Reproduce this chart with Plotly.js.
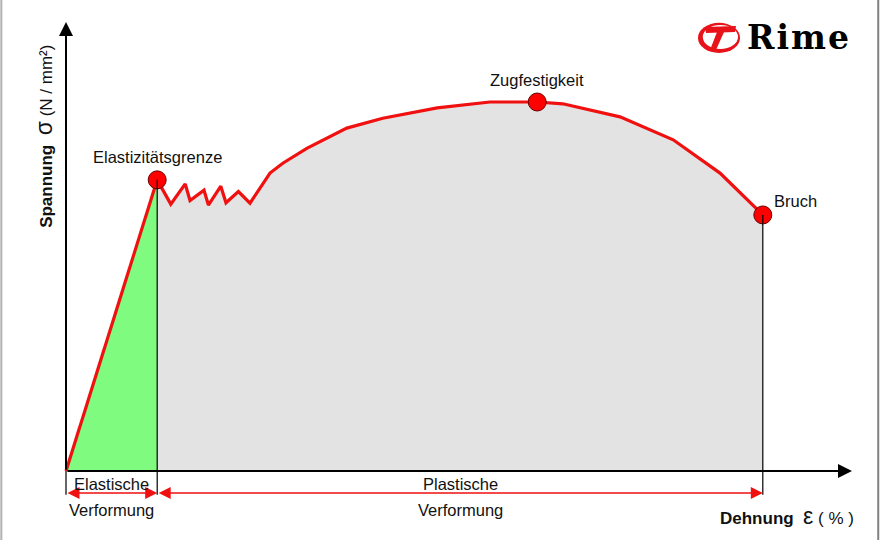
<!DOCTYPE html>
<html>
<head>
<meta charset="utf-8">
<script src="https://cdn.plot.ly/plotly-3.0.1.min.js"></script>
<style>
  html, body { margin: 0; padding: 0; background: #fff; }
  #chart { width: 880px; height: 540px; }
</style>
</head>
<body>
<div id="chart"></div>
<script>
// Spannungs-Dehnungs-Diagramm (stress-strain curve), arbitrary units
// Strain (Dehnung, %) and stress (Spannung, N/mm²) along the curve
const strain = [0, 11.4, 13.1, 14.9, 15.5, 17.25, 17.8, 19.35, 20.0, 21.55, 23.0,
                25.5, 27.1, 30.1, 35.1, 39.6, 46.4, 53.0, 58.9, 62.1, 69.25, 75.9, 81.75, 87.1];
const stress = [0, 64.7, 59.3, 63.8, 60.1, 62.4, 59.1, 63.3, 59.6, 62.1, 59.5,
                66.2, 68.4, 71.7, 76.2, 78.4, 80.7, 82.0, 82.0, 81.6, 78.7, 73.6, 66.2, 56.9];

// Characteristic points (indices into the curve)
const pointNames = ["Elastizitätsgrenze", "Zugfestigkeit", "Bruch"];
const pointIndex = [1, 18, strain.length - 1];

// Region labels below the strain axis
const regionTop = ["Elastische", "Plastische"];
const regionBottom = ["Verformung", "Verformung"];

const iLimit = pointIndex[0];
const iBreak = pointIndex[2];
const elX = strain.slice(0, iLimit + 1), elY = stress.slice(0, iLimit + 1);
const plX = strain.slice(iLimit), plY = stress.slice(iLimit);

const RED = '#f01010';
const FONT = 'Liberation Sans, Arial, sans-serif';
const LBL = 16.5;

const traces = [
  // elastic region: green triangle under the straight line
  { x: elX, y: elY, type: 'scatter', mode: 'lines', fill: 'tozeroy',
    fillcolor: '#7ffc7f', line: { color: RED, width: 3.2 }, hoverinfo: 'skip' },
  // plastic region: grey area under the curve
  { x: plX, y: plY, type: 'scatter', mode: 'lines', fill: 'tozeroy',
    fillcolor: '#e3e3e3', line: { color: RED, width: 3.2 }, hoverinfo: 'skip' }
];

const yAxisEnd = 99.8, xAxisEnd = 98.25, arrowRow = -4.9, tickBottom = -5.3;

const shapes = [
  // boundaries of the regions, extended below the axis
  { type: 'line', xref: 'x', yref: 'y', x0: 0, x1: 0, y0: 0, y1: tickBottom,
    line: { color: '#000', width: 1.2 } },
  { type: 'line', xref: 'x', yref: 'y', x0: strain[iLimit], x1: strain[iLimit],
    y0: stress[iLimit], y1: tickBottom, line: { color: '#000', width: 1.2 } },
  { type: 'line', xref: 'x', yref: 'y', x0: strain[iBreak], x1: strain[iBreak],
    y0: stress[iBreak], y1: tickBottom, line: { color: '#000', width: 1.2 } },
  // logo mark
  { type: 'circle', xref: 'x', yref: 'y', x0: 79.0, x1: 84.25, y0: 92.9, y1: 99.6,
    fillcolor: '#e8121a', line: { width: 0 } },
  { type: 'circle', xref: 'x', yref: 'y', x0: 79.6, x1: 84.0, y0: 93.8, y1: 99.1,
    fillcolor: '#ffffff', line: { width: 0 } },
  { type: 'path', xref: 'x', yref: 'y',
    path: 'M 79.875 98.67 L 83.75 98.89 L 83.625 97.56 L 80.0 97.33 Z',
    fillcolor: '#e8121a', line: { width: 0 } },
  { type: 'path', xref: 'x', yref: 'y',
    path: 'M 81.375 97.56 L 82.25 97.56 L 81.25 93.56 L 80.5 93.56 Z',
    fillcolor: '#e8121a', line: { width: 0 } },
  // frame edges
  { type: 'line', xref: 'paper', yref: 'paper', x0: 0.0015, x1: 0.0015, y0: 0, y1: 1,
    line: { color: '#b0b0b0', width: 2 } },
  { type: 'line', xref: 'paper', yref: 'paper', x0: 0.998, x1: 0.998, y0: 0, y1: 1,
    line: { color: '#808080', width: 2 } }
];

const arrow = (x, y, ax, ay, color, width, side, size) => ({
  x: x, y: y, ax: ax, ay: ay, xref: 'x', yref: 'y', axref: 'x', ayref: 'y',
  text: '', showarrow: true, arrowhead: 2, startarrowhead: 2, arrowside: side,
  arrowsize: size, startarrowsize: size, arrowwidth: width, arrowcolor: color,
  standoff: 0, startstandoff: 0
});

const txt = (x, y, text, size, extra) => Object.assign({
  x: x, y: y, xref: 'x', yref: 'y', text: text, showarrow: false,
  font: { family: FONT, size: size, color: '#111' }
}, extra || {});

const annotations = [
  // axes
  arrow(0, yAxisEnd, 0, 0, '#000', 2, 'end', 1.4),
  arrow(xAxisEnd, 0, 0, 0, '#000', 2, 'end', 1.4),
  // deformation ranges
  arrow(strain[iLimit], arrowRow, 0, arrowRow, RED, 1.6, 'end+start', 1.5),
  arrow(strain[iBreak], arrowRow, strain[iLimit], arrowRow, RED, 1.6, 'end+start', 1.5),
  // labels of characteristic points
  txt(strain[pointIndex[0]], stress[pointIndex[0]] + 5.1, pointNames[0], LBL),
  txt(strain[pointIndex[1]], stress[pointIndex[1]] + 5.0, pointNames[1], LBL),
  txt(strain[pointIndex[2]] + 1.2, stress[pointIndex[2]] + 3.2, pointNames[2], LBL,
      { xanchor: 'left' }),
  // region labels
  txt(strain[iLimit] / 2, -2.9, regionTop[0], LBL),
  txt(strain[iLimit] / 2, -8.7, regionBottom[0], LBL),
  txt((strain[iLimit] + strain[iBreak]) / 2, -2.9, regionTop[1], LBL),
  txt((strain[iLimit] + strain[iBreak]) / 2, -8.7, regionBottom[1], LBL),
  // axis titles
  txt(98.7, -10.1, '<b>Dehnung</b>  <span style="font-size:23px">ε</span> ( % )', 17,
      { xanchor: 'right' }),
  txt(-2.85, 74.3, '<b>Spannung</b>  <span style="font-size:23px">σ</span> (N / mm²)', 17,
      { textangle: -90 }),
  // logo text
  { x: 91.6, y: 96.3, xref: 'x', yref: 'y', showarrow: false,
    text: '<b><span style="letter-spacing:2px">Rime</span></b>',
    font: { family: 'DejaVu Serif, serif', size: 33, color: '#000' } }
];

// markers of characteristic points drawn last, on top of the curve
traces.push({
  x: pointIndex.map(i => strain[i]), y: pointIndex.map(i => stress[i]),
  type: 'scatter', mode: 'markers', cliponaxis: false, hoverinfo: 'skip',
  marker: { size: 18, color: '#ff0000', line: { color: '#6a0000', width: 1 } }
});

const layout = {
  width: 880, height: 540,
  margin: { l: 0, r: 0, t: 0, b: 0 },
  paper_bgcolor: '#ffffff', plot_bgcolor: '#ffffff',
  showlegend: false,
  xaxis: { range: [-8.25, 101.75], visible: false, fixedrange: true },
  yaxis: { range: [-15.333, 104.667], visible: false, fixedrange: true },
  shapes: shapes,
  annotations: annotations
};

Plotly.newPlot('chart', traces, layout, { staticPlot: true, displayModeBar: false });
</script>
</body>
</html>
